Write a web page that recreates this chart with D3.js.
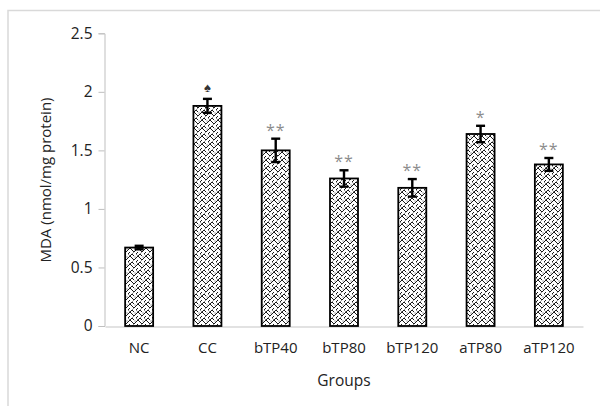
<!DOCTYPE html>
<html><head><meta charset="utf-8">
<script src="https://cdn.jsdelivr.net/npm/d3@7"></script>
<style>
body{margin:0;background:#fff;}
text{font-family:"Open Sans",sans-serif;}
</style></head>
<body><div id="chart"></div>
<script>
const categories = ["NC","CC","bTP40","bTP80","bTP120","aTP80","aTP120"];
const values = [0.67, 1.88, 1.50, 1.26, 1.18, 1.64, 1.38];
const errors = [0.015, 0.06, 0.10, 0.07, 0.075, 0.07, 0.055];
const marks = ["", "\u2660", "**", "**", "**", "*", "**"];
const yTicks = [0, 0.5, 1, 1.5, 2, 2.5];
const yTickLabels = ["0","0.5","1","1.5","2","2.5"];

const W = 600, H = 406;
const svg = d3.select("#chart").append("svg").attr("width", W).attr("height", H);

// pattern (weave-like)
const defs = svg.append("defs");
const pat = defs.append("pattern").attr("id","weave").attr("patternUnits","userSpaceOnUse")
  .attr("width",8).attr("height",8);
pat.append("rect").attr("width",8).attr("height",8).attr("fill","#fff");
pat.append("path").attr("d","M0,2 L2,0 L4,2 L6,4 L8,2 M0,6 L2,4 M2,8 L4,6 L6,8 M6,0 L8,-2")
  .attr("stroke","#1a1a1a").attr("stroke-width",1.0).attr("fill","none");
pat.append("path").attr("d","M4,6 L6,4 M0,6 L2,8")
  .attr("stroke","#777").attr("stroke-width",0.8).attr("fill","none");
pat.append("rect").attr("x",6.5).attr("y",0.5).attr("width",1).attr("height",1).attr("fill","#555");

// frame
svg.append("rect").attr("x",8).attr("y",10.5).attr("width",W+20).attr("height",H+20)
  .attr("fill","none").attr("stroke","#d9d9d9").attr("stroke-width",1.5);

const x = d3.scaleBand().domain(categories).range([105, 583]).paddingInner(0.59).paddingOuter(0.295);
const y = d3.scaleLinear().domain([0, 2.5]).range([326, 33.3]);

// y axis
const yAxis = d3.axisLeft(y).tickValues(yTicks).tickSize(6).tickFormat((d,i)=>yTickLabels[i]);
const gy = svg.append("g").attr("transform","translate(104.5,0)").call(yAxis);
gy.select(".domain").attr("stroke","#bfbfbf");
gy.selectAll(".tick line").attr("stroke","#bfbfbf");
gy.selectAll(".tick text").attr("font-size",15.5).attr("fill","#222").attr("x",-12)
  .attr("font-family","Open Sans, sans-serif");

// x axis
const xAxis = d3.axisBottom(x).tickSize(0).tickPadding(16);
const gx = svg.append("g").attr("transform","translate(0,326.5)").call(xAxis);
gx.select(".domain").attr("stroke","#d9d9d9").attr("stroke-width",1.5);
gx.selectAll(".tick text").attr("font-size",15).attr("fill","#222")
  .attr("font-family","Open Sans, sans-serif");

// bars
svg.selectAll("rect.bar").data(categories).join("rect").attr("class","bar")
  .attr("x", d=>x(d)).attr("width", x.bandwidth())
  .attr("y", (d,i)=>y(values[i])).attr("height",(d,i)=>y(0)-y(values[i]))
  .attr("fill","url(#weave)").attr("stroke","#000").attr("stroke-width",1.8);

// error bars
const eg = svg.append("g").attr("stroke","#000").attr("stroke-width",2.4);
categories.forEach((c,i)=>{
  const cx = x(c)+x.bandwidth()/2;
  const t = y(values[i]+errors[i]), b = y(values[i]-errors[i]);
  eg.append("line").attr("x1",cx).attr("x2",cx).attr("y1",t).attr("y2",b);
  eg.append("line").attr("x1",cx-4.5).attr("x2",cx+4.5).attr("y1",t).attr("y2",t);
  eg.append("line").attr("x1",cx-4.5).attr("x2",cx+4.5).attr("y1",b).attr("y2",b);
});

// marks
categories.forEach((c,i)=>{
  if(!marks[i]) return;
  const cx = x(c)+x.bandwidth()/2;
  const top = y(values[i]+errors[i]);
  const isSpade = marks[i]==="\u2660";
  svg.append("text").attr("x",cx).attr("y", top - (isSpade?7:3))
    .attr("text-anchor","middle")
    .attr("font-size", isSpade?13:16)
    .attr("font-family","DejaVu Sans, sans-serif")
    .attr("fill", isSpade?"#333":"#8c8c8c")
    .attr("letter-spacing", isSpade?0:1)
    .text(marks[i]);
});

// axis titles
svg.append("text").attr("transform","translate(51,180) rotate(-90)")
  .attr("text-anchor","middle").attr("font-size",15).attr("fill","#222").text("MDA (nmol/mg protein)");
svg.append("text").attr("x",344).attr("y",386).attr("text-anchor","middle")
  .attr("font-size",15.5).attr("fill","#222").text("Groups");
</script></body></html>
